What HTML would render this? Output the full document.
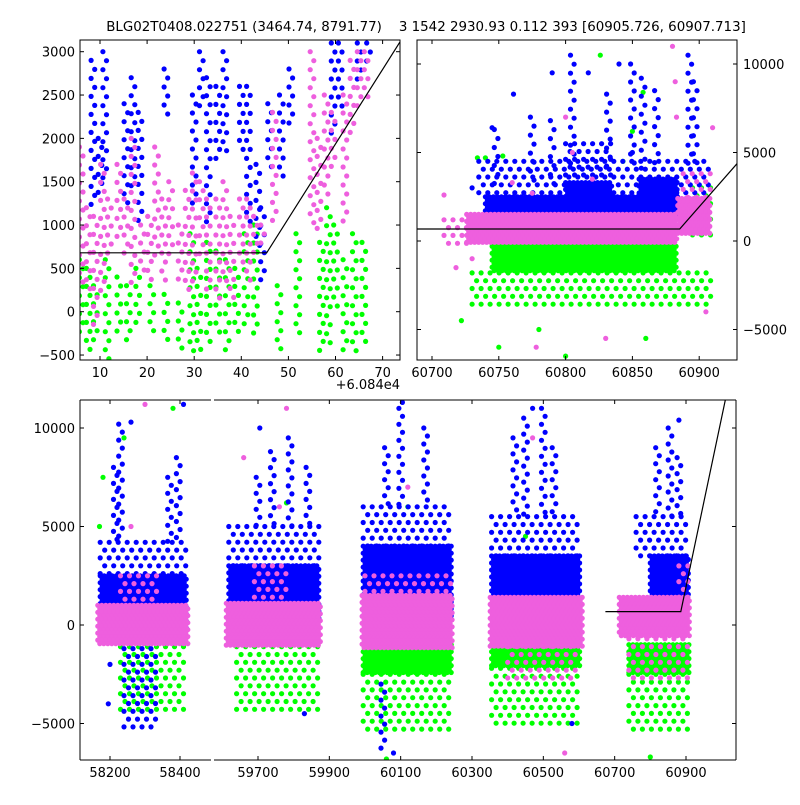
<!DOCTYPE html>
<html><head><meta charset="utf-8"><style>
html,body{margin:0;padding:0;background:#fff;}
svg text{font-family:"DejaVu Sans","Liberation Sans",sans-serif;font-size:13px;fill:#000;}
</style></head><body>
<svg id="chart" width="800" height="800" xmlns="http://www.w3.org/2000/svg">
<text x="426" y="31" text-anchor="middle" xml:space="preserve" style="white-space:pre;font-size:13.4px">BLG02T0408.022751 (3464.74, 8791.77)    3 1542 2930.93 0.112 393 [60905.726, 60907.713]</text>
<text x="400" y="389" text-anchor="end">+6.084e4</text>
</svg>
<script>
// ---------- data ----------
const COLORS = {green:"#00ff00", blue:"#0000ff", pink:"#ee5fde"};
const modelFlat = 680;
const modelBreak = 60885.4;
const modelSlope = 86;
const modelStartBottom = 60674;

// Bottom panel: dense/sparse regions [t0,t1,v0,v1], cols [t,v0,v1], pts [t,v]
const B_blue_dense = [[58172,58420,-300,2500],[59618,59875,300,3000],[59995,60242,300,4000],[60355,60605,300,3500],[60800,60910,800,3500]];
const B_blue_sparse = [[58172,58420,2500,4200],[59618,59875,3000,5000],[59995,60242,4000,6000],[60355,60605,3500,5500],[60760,60910,3500,5500],[58240,58340,-1200,-5500]];
const B_blue_cols = [[58215,4200,8000],[58230,4200,10200],[58370,4200,7500],[58395,4200,8500],
 [59700,5000,7500],[59740,5000,8800],[59790,5000,9500],[59840,5000,8000],
 [60060,6000,9000],[60100,6000,11000],[60170,6000,10000],[60050,-3000,-6500],
 [60420,5500,9500],[60450,5500,10500],[60500,5500,11000],[60530,5500,9000],
 [60820,5500,9000],[60855,5500,10000],[60880,5500,8500]];
const B_blue_pts = [[58260,10300],[58410,11200],[59705,10000],[60105,11300],[60470,11000],[60880,10400],[59830,-4500],[60080,-6500],[60580,-5000],[58200,-2000],[58195,-4000]];
const B_green_dense = [[59995,60242,-1000,-2500],[60355,60605,-1000,-2200],[60740,60910,-1000,-2500]];
const B_green_sparse = [[58230,58412,-1100,-4500],[59640,59875,-1100,-4500],[59995,60242,-2500,-5500],[60355,60605,-2200,-5000],[60740,60910,-2500,-5500]];
const B_green_pts = [[58380,11000],[58240,9500],[58180,7500],[60120,6000],[60450,4500],[59780,6200],[60100,-7000],[58170,5000],[60060,-6800],[60800,-6700]];
const B_pink_dense = [[58165,58423,-1100,1000],[59611,59877,-1100,1100],[59992,60245,-1200,1500],[60351,60609,-1100,1400],[60713,60912,-700,1400]];
const B_pink_sparse = [[58230,58335,1000,2500],[59690,59780,1100,3000],[60000,60240,1500,2500],[60880,60912,1400,3000],[60400,60600,-1100,-3000],[60740,60910,-700,-3000]];
const B_pink_pts = [[58300,11200],[59780,11000],[60120,7000],[60470,9500],[59660,8500],[60560,-6500],[59760,6000],[58260,5000]];

// Top-right panel
const R_pink_dense = [[60726,60884,-200,1500],[60884,60908,300,2400]];
const R_pink_sparse = [[60888,60910,2400,3800],[60709,60726,-500,1200]];
const R_pink_pts = [[60709,2600],[60718,-1500],[60730,-1000],[60800,7000],[60805,5000],[60880,11000],[60882,9000],[60883,7000],[60910,6400],[60778,-6000],[60830,-5500],[60905,-4000],[60775,2700],[60760,3300],[60820,3500]];
const R_blue_dense = [[60740,60884,1300,2500],[60800,60835,2500,3300],[60855,60884,2500,3500]];
const R_blue_sparse = [[60735,60910,2500,4500],[60800,60835,3300,5500]];
const R_blue_cols = [[60748,3000,6300],[60775,3000,7000],[60790,3000,6800],[60805,4200,10500],[60832,4000,8300],[60850,4000,10000],[60858,4000,9200],[60868,4000,8500],[60893,4000,10500],[60897,4000,9000]];
const R_blue_pts = [[60761,8300],[60817,9500],[60850,5000],[60730,3000],[60745,6400],[60790,9500],[60840,10000]];
const R_green_dense = [[60745,60884,-300,-1800]];
const R_green_sparse = [[60730,60910,-1800,-4000],[60895,60910,0,3000]];
const R_green_pts = [[60734,4700],[60740,4700],[60753,4800],[60858,8400],[60850,6200],[60843,4500],[60870,2500],[60722,-4500],[60750,-6000],[60800,-6500],[60826,10500],[60780,-5000],[60860,-5500]];

// Top-left panel (t - 60840)
const L_pink_cols = [[6,300,1900],[7.5,200,1200],[9,-200,1100],[10.5,200,1700],[12,600,1300],[14,800,1700],[15.5,600,1300],[17,300,2000],[19,400,1000],[20.5,300,1100],[22,600,1900],[23.5,300,1300],[25,600,1500],[27,300,1000],[28.5,200,1400],[30,300,1600],[31.5,600,1500],[33,200,1300],[35,100,1300],[36.5,300,1500],[38,100,1100],[40,500,1300],[41.5,300,1300],[43,600,1100],[44.5,700,1000],[47,1000,2300],[55,1000,3000],[56.5,900,2000],[58,1300,2500],[59.5,1600,2300],[62,1000,2500],[63.5,2000,2900],[65,2300,3000],[66.5,2400,3000]];
const L_blue_cols = [[8.5,1200,2900],[10,1300,2000],[11,1500,3000],[15.5,1200,2400],[17,1400,2700],[18.5,1000,2300],[24,2200,2800],[30,1200,2500],[31.5,2300,3000],[33,1000,2700],[35,1700,2600],[36.5,1800,3000],[40,1800,2600],[41.5,1000,2600],[43.5,700,1700],[44.5,300,1200],[46,1600,2400],[48.5,1500,2500],[50.5,2100,2800],[59.5,2000,3100],[61,2300,3100],[65,2600,3100],[67,2800,3100]];
const L_green_cols = [[6,-300,600],[7.5,-500,500],[9,-400,300],[11.5,-600,600],[14,-300,400],[16,-400,300],[18,-200,500],[21,-300,300],[24,-400,200],[27,-500,100],[29.5,-500,900],[31,-500,500],[33,-400,800],[35,-300,700],[37,-500,600],[39,-300,500],[41,-200,900],[43,-300,1000],[48,-500,300],[52,-300,900],[57,-500,800],[58.5,-400,1200],[60,0,1000],[62,-500,600],[64,-500,900],[66,-400,800]];

const L_xticks = [10,20,30,40,50,60,70];
const L_yticks = [-500,0,500,1000,1500,2000,2500,3000];
const R_xticks = [60700,60750,60800,60850,60900];
const R_yticks = [-5000,0,5000,10000];
const B_xticks1 = [58200,58400];
const B_xticks2 = [59700,59900,60100,60300,60500,60700,60900];
const B_yticks = [-5000,0,5000,10000];

// ---------- rendering ----------
const NS = "http://www.w3.org/2000/svg";
const svg = document.getElementById("chart");
function mk(tag, attrs, parent){ const e=document.createElementNS(NS,tag); for(const k in attrs) e.setAttribute(k,attrs[k]); (parent||svg).appendChild(e); return e; }
function lin(d0,d1,r0,r1){ return v => r0 + (v-d0)*(r1-r0)/(d1-d0); }
let clipN = 0;
function makeClip(x,y,w,h){ const id="clip"+(clipN++); const cp=mk("clipPath",{id:id}); mk("rect",{x:x,y:y,width:w,height:h},cp); return id; }
const R = 2.6;
function dot(lg,x,y,color,name){
  const c=mk("circle",{cx:x.toFixed(1),cy:y.toFixed(1),r:R,fill:color},lg);
  
  
}
function fillRegion(lg,X,Y,b,color,name,step){
  const x0=Math.min(X(b[0]),X(b[1])), x1=Math.max(X(b[0]),X(b[1]));
  const y0=Math.min(Y(b[2]),Y(b[3])), y1=Math.max(Y(b[2]),Y(b[3]));
  let j=0;
  for(let y=y0; y<=y1+0.1; y+=step*0.87, j++){
    for(let x=x0+(j%2)*step/2; x<=x1+0.1; x+=step) dot(lg,x,y,color,name);
  }
}
function drawLayer(g, X, Y, color, dense, sparse, cols, pts, name, colStep){
  const lg = mk("g",{},g);
  
  
  (sparse||[]).forEach(b=>fillRegion(lg,X,Y,b,color,name,9));
  (dense||[]).forEach(b=>fillRegion(lg,X,Y,b,color,name,4));
  (cols||[]).forEach(c=>{
    const x=X(c[0]); const ya=Y(c[1]), yb=Y(c[2]);
    const lo=Math.min(ya,yb), hi=Math.max(ya,yb);
    let k=0;
    for(let y=lo; y<=hi+0.1; y+=colStep, k++) dot(lg,x+((k%2)?1.8:-1.8),y,color,name);
  });
  (pts||[]).forEach(p=>dot(lg,X(p[0]),Y(p[1]),color,name));
}
function drawModel(g,X,Y,t0,t1){
  const pts=[[t0,modelFlat],[modelBreak,modelFlat],[t1,modelFlat+modelSlope*(t1-modelBreak)]];
  const l=mk("polyline",{points:pts.map(p=>X(p[0]).toFixed(1)+","+Y(p[1]).toFixed(1)).join(" "),fill:"none",stroke:"#000","stroke-width":1.2},g);
  
  
}
function xTicks(X, ticks, yTop, yBot){
  ticks.forEach(t=>{
    const x=X(t);
    mk("line",{x1:x,y1:yBot,x2:x,y2:yBot-4,stroke:"#000","stroke-width":1});
    mk("line",{x1:x,y1:yTop,x2:x,y2:yTop+4,stroke:"#000","stroke-width":1});
    const tx=mk("text",{x:x,y:yBot+17,"text-anchor":"middle"}); tx.textContent=String(t);
    
    
  });
}
function yTicks(Y, ticks, xL, xR, side){
  ticks.forEach(v=>{
    const y=Y(v);
    mk("line",{x1:xL,y1:y,x2:xL+4,y2:y,stroke:"#000","stroke-width":1});
    mk("line",{x1:xR,y1:y,x2:xR-4,y2:y,stroke:"#000","stroke-width":1});
    const lab = v<0 ? "\u2212"+Math.abs(v) : String(v);
    const tx = side==="left" ? mk("text",{x:xL-5,y:y+5,"text-anchor":"end"}) : mk("text",{x:xR+6,y:y+5,"text-anchor":"start"});
    tx.textContent=lab;
    
    
  });
}

// ---- Top-left panel ----
(function(){
  const x0=80,x1=400,y0=40,y1=360;
  const X=lin(10,70,100,382.6), Y=lin(0,3000,311.7,51.7);
  const g=mk("g",{"clip-path":"url(#"+makeClip(x0,y0,x1-x0,y1-y0)+")"});
  
  
  drawLayer(g,X,Y,COLORS.green,null,null,L_green_cols,null,"green",9);
  drawLayer(g,X,Y,COLORS.blue,null,null,L_blue_cols,null,"blue",9);
  drawLayer(g,X,Y,COLORS.pink,null,null,L_pink_cols,null,"pink",9);
  drawModel(g,t=>X(t-60840),Y,60840+5,60840+80);
  const f=mk("rect",{x:x0,y:y0,width:x1-x0,height:y1-y0,fill:"none",stroke:"#000","stroke-width":1});
   
  xTicks(X,L_xticks,y0,y1);
  yTicks(Y,L_yticks,x0,x1,"left");
})();

// ---- Top-right panel ----
(function(){
  const x0=417,x1=737,y0=40,y1=360;
  const X=lin(60700,60900,432,699.2), Y=lin(0,10000,241,64);
  const g=mk("g",{"clip-path":"url(#"+makeClip(x0,y0,x1-x0,y1-y0)+")"});
  
  
  drawLayer(g,X,Y,COLORS.green,R_green_dense,R_green_sparse,null,R_green_pts,"green",9);
  drawLayer(g,X,Y,COLORS.blue,R_blue_dense,R_blue_sparse,R_blue_cols,R_blue_pts,"blue",9);
  drawLayer(g,X,Y,COLORS.pink,R_pink_dense,R_pink_sparse,null,R_pink_pts,"pink",9);
  drawModel(g,X,Y,60680,60940);
  const f=mk("rect",{x:x0,y:y0,width:x1-x0,height:y1-y0,fill:"none",stroke:"#000","stroke-width":1});
   
  xTicks(X,R_xticks,y0,y1);
  yTicks(Y,R_yticks,x0,x1,"right");
})();

// ---- Bottom panel (broken axis) ----
(function(){
  const y0=400,y1=760;
  const Y=lin(0,10000,625,428);
  const segs=[{x0:80,x1:211,X:lin(58200,58400,110,180),ticks:B_xticks1},
              {x0:214,x1:736,X:lin(59700,60900,258,686),ticks:B_xticks2}];
  segs.forEach((s,i)=>{
    const g=mk("g",{"clip-path":"url(#"+makeClip(s.x0,y0,s.x1-s.x0,y1-y0)+")"});
    
    
    drawLayer(g,s.X,Y,COLORS.green,B_green_dense,B_green_sparse,null,B_green_pts,"green",9);
    drawLayer(g,s.X,Y,COLORS.blue,B_blue_dense,B_blue_sparse,B_blue_cols,B_blue_pts,"blue",8);
    drawLayer(g,s.X,Y,COLORS.pink,B_pink_dense,B_pink_sparse,null,B_pink_pts,"pink",8);
    drawModel(g,s.X,Y,modelStartBottom,61100);
    mk("line",{x1:s.x0,y1:y0,x2:s.x1,y2:y0,stroke:"#000"});
    mk("line",{x1:s.x0,y1:y1,x2:s.x1,y2:y1,stroke:"#000"});
    xTicks(s.X,s.ticks,y0,y1);
  });
  mk("line",{x1:80,y1:y0,x2:80,y2:y1,stroke:"#000"});
  mk("line",{x1:736,y1:y0,x2:736,y2:y1,stroke:"#000"});
  yTicks(Y,B_yticks,80,736,"left");
})();
</script>
</body></html>
